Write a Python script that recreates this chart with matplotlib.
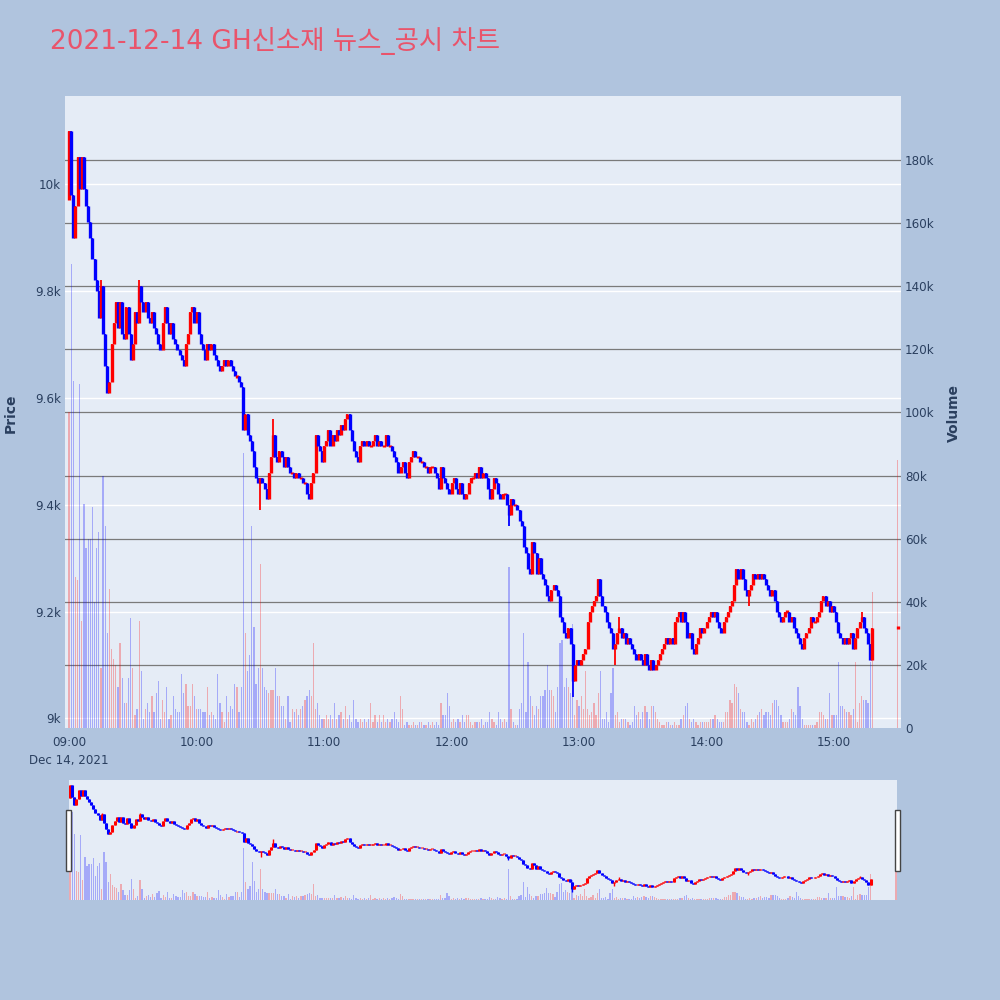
import numpy as np
import matplotlib
matplotlib.use('Agg')
import matplotlib.pyplot as plt
from matplotlib.transforms import blended_transform_factory
from matplotlib.patches import Rectangle

plt.rcParams['font.family'] = ['DejaVu Sans', 'Noto Sans CJK KR']

# ---- data (1-minute candles from 09:00) ----
first_open = 9970
closes = [
    10100, 9980, 9900, 9960, 10050, 9990, 10050, 9990, 9960, 9930,
    9900, 9860, 9820, 9800, 9750, 9810, 9720, 9660, 9610, 9630,
    9700, 9740, 9780, 9730, 9780, 9720, 9710, 9770, 9720, 9670,
    9700, 9760, 9740, 9810, 9780, 9760, 9780, 9750, 9740, 9760,
    9730, 9720, 9700, 9690, 9740, 9770, 9740, 9720, 9740, 9710,
    9700, 9690, 9680, 9670, 9660, 9700, 9720, 9760, 9770, 9740,
    9760, 9720, 9700, 9690, 9670, 9700, 9690, 9700, 9680, 9670,
    9660, 9650, 9660, 9670, 9660, 9670, 9660, 9650, 9640, 9640,
    9630, 9620, 9540, 9570, 9530, 9520, 9500, 9470, 9450, 9440,
    9450, 9440, 9430, 9410, 9460, 9490, 9530, 9490, 9480, 9500,
    9490, 9470, 9490, 9470, 9460, 9460, 9450, 9460, 9450, 9450,
    9440, 9440, 9420, 9410, 9440, 9460, 9530, 9510, 9500, 9480,
    9510, 9520, 9540, 9510, 9530, 9520, 9540, 9530, 9550, 9540,
    9560, 9570, 9540, 9520, 9500, 9490, 9480, 9510, 9520, 9510,
    9520, 9510, 9510, 9520, 9530, 9510, 9520, 9510, 9510, 9530,
    9510, 9510, 9500, 9490, 9480, 9460, 9470, 9480, 9460, 9450,
    9480, 9490, 9500, 9490, 9490, 9480, 9480, 9470, 9470, 9460,
    9470, 9470, 9460, 9450, 9430, 9470, 9450, 9440, 9430, 9420,
    9440, 9450, 9430, 9420, 9440, 9420, 9410, 9420, 9440, 9450,
    9450, 9460, 9450, 9470, 9450, 9460, 9450, 9430, 9410, 9430,
    9450, 9440, 9420, 9410, 9420, 9420, 9400, 9380, 9410, 9400,
    9400, 9390, 9370, 9360, 9320, 9310, 9280, 9270, 9330, 9310,
    9270, 9300, 9270, 9260, 9250, 9230, 9220, 9240, 9250, 9240,
    9230, 9190, 9180, 9160, 9150, 9170, 9140, 9070, 9100, 9110,
    9100, 9110, 9120, 9130, 9180, 9200, 9210, 9220, 9230, 9260,
    9230, 9210, 9200, 9180, 9170, 9160, 9130, 9140, 9160, 9170,
    9150, 9160, 9140, 9150, 9140, 9130, 9120, 9110, 9120, 9110,
    9100, 9120, 9100, 9090, 9110, 9090, 9100, 9110, 9120, 9130,
    9140, 9150, 9140, 9150, 9140, 9180, 9190, 9200, 9180, 9200,
    9180, 9150, 9160, 9130, 9120, 9140, 9150, 9170, 9160, 9170,
    9180, 9190, 9200, 9190, 9200, 9180, 9170, 9160, 9180, 9190,
    9200, 9210, 9220, 9250, 9280, 9260, 9280, 9260, 9240, 9230,
    9240, 9250, 9270, 9260, 9270, 9260, 9270, 9260, 9250, 9240,
    9230, 9240, 9220, 9200, 9190, 9180, 9190, 9200, 9200, 9180,
    9190, 9170, 9160, 9150, 9140, 9130, 9150, 9160, 9170, 9190,
    9180, 9180, 9190, 9200, 9220, 9230, 9210, 9220, 9200, 9210,
    9200, 9180, 9160, 9150, 9140, 9150, 9140, 9150, 9160, 9130,
    9150, 9170, 9180, 9190, 9170, 9160, 9140, 9110, 9170,
]
volumes_k = [
    100, 147, 110, 48, 47, 109, 34, 71, 57, 60,
    60, 70, 40, 57, 62, 19, 80, 64, 30, 44,
    25, 22, 20, 13, 27, 16, 8, 8, 16, 35,
    19, 4, 6, 34, 18, 3, 6, 8, 5, 10,
    5, 11, 15, 3, 9, 5, 13, 3, 4, 10,
    6, 5, 5, 17, 11, 14, 7, 7, 14, 10,
    6, 6, 6, 5, 5, 13, 4, 5, 4, 3,
    17, 8, 5, 2, 10, 5, 7, 6, 14, 13,
    5, 13, 87, 30, 18, 23, 64, 32, 14, 19,
    52, 19, 13, 12, 11, 12, 12, 19, 10, 10,
    7, 7, 3, 10, 2, 6, 5, 6, 4, 6,
    7, 9, 10, 12, 10, 27, 6, 8, 4, 3,
    3, 4, 3, 4, 3, 8, 3, 4, 5, 3,
    7, 3, 4, 2, 9, 3, 2, 3, 2, 3,
    2, 3, 8, 2, 4, 2, 4, 2, 4, 2,
    3, 2, 3, 5, 3, 2, 10, 6, 1, 2,
    1, 1, 2, 1, 1, 2, 2, 1, 1, 2,
    1, 2, 1, 2, 1, 8, 4, 4, 11, 7,
    2, 3, 2, 3, 2, 4, 2, 4, 4, 2,
    1, 2, 2, 2, 3, 1, 2, 2, 5, 3,
    2, 1, 5, 3, 2, 3, 2, 51, 6, 2,
    1, 1, 6, 8, 30, 5, 21, 10, 7, 4,
    7, 6, 10, 10, 12, 20, 12, 12, 10, 5,
    13, 27, 28, 13, 16, 13, 11, 33, 4, 9,
    7, 10, 6, 18, 6, 4, 5, 8, 4, 11,
    18, 3, 3, 5, 2, 11, 19, 4, 5, 2,
    3, 3, 3, 2, 1, 2, 7, 4, 5, 3,
    5, 7, 5, 3, 7, 7, 5, 3, 2, 1,
    1, 2, 2, 1, 1, 2, 1, 1, 3, 4,
    7, 8, 3, 2, 3, 2, 1, 2, 2, 2,
    2, 2, 3, 3, 4, 3, 2, 2, 2, 5,
    5, 9, 8, 14, 13, 11, 6, 5, 5, 2,
    1, 3, 2, 3, 4, 5, 6, 4, 5, 5,
    4, 8, 9, 9, 7, 4, 2, 2, 2, 3,
    6, 5, 4, 13, 7, 3, 1, 1, 1, 1,
    1, 1, 2, 5, 5, 4, 3, 3, 11, 4,
    4, 4, 21, 7, 7, 6, 5, 5, 4, 6,
    21, 2, 8, 10, 9, 9, 8, 21, 43,
]
# wicks that poke out of the bodies
wick_minutes = [0, 15, 33, 90, 96, 207, 237, 257, 259, 320, 373]
wick_prices = [10100, 9820, 9820, 9390, 9560, 9360, 9040, 9100, 9190, 9210, 9200]
# closing auction at 15:30
auction_minute = 390
auction_price = 9170
auction_volume_k = 85

title = '2021-12-14 GH신소재 뉴스_공시 차트'
hour_labels = ['09:00\nDec 14, 2021', '10:00', '11:00', '12:00', '13:00', '14:00', '15:00']

# ---- build OHLC ----
c = np.array(closes + [auction_price], dtype=float)
o = np.array([first_open] + closes[:-1] + [auction_price], dtype=float)
x = np.append(np.arange(len(closes)), auction_minute)
vol = np.array(volumes_k + [auction_volume_k], dtype=float) * 1000
hi = np.maximum(o, c)
lo = np.minimum(o, c)
body_lo = np.where(o == c, c - 2, lo)
body_hi = np.where(o == c, c + 2, hi)
for m, p in zip(wick_minutes, wick_prices):
    hi[m] = max(hi[m], p)
    lo[m] = min(lo[m], p)
up = c >= o
cols = np.where(up, '#ff0000', '#0000ff')

BG = '#b0c4de'
PLOT_BG = '#e5ecf6'
TXT = '#2a3f5f'


def draw(ax_v, ax_p, body_lw, wick_lw, bar_w):
    ax_v.bar(x, vol, width=bar_w, color=cols, alpha=0.28, linewidth=0, zorder=2)
    ax_p.vlines(x, lo, hi, colors=cols, linewidth=wick_lw, zorder=3)
    ax_p.vlines(x, body_lo, body_hi, colors=cols, linewidth=body_lw, zorder=4)


fig = plt.figure(figsize=(10, 10), dpi=100, facecolor=BG)

# ---- main chart ----
ax_vol = fig.add_axes([0.065, 0.272, 0.836, 0.632])
ax_vol.set_facecolor(PLOT_BG)
ax_px = ax_vol.twinx()
ax_px.set_zorder(ax_vol.get_zorder() + 1)
ax_px.patch.set_visible(False)

ax_vol.set_xlim(-1.9, 391.5)
ax_vol.set_ylim(0, 200300)
ax_px.set_ylim(8982, 10165)

price_ticks = [9000, 9200, 9400, 9600, 9800, 10000]
vol_ticks = list(range(0, 200000, 20000))

blend = blended_transform_factory(ax_vol.transAxes, ax_px.transData)
for p in price_ticks:
    ax_vol.plot([0, 1], [p, p], transform=blend, color='white', lw=1.0, zorder=0.5)
for v in vol_ticks[1:]:
    ax_vol.axhline(v, color='#7a7a7a', lw=0.9, zorder=0.6)

draw(ax_vol, ax_px, 2.4, 1.3, 0.6)

ax_px.yaxis.tick_left()
ax_vol.yaxis.tick_right()
ax_px.set_yticks(price_ticks)
ax_px.set_yticklabels(['9k', '9.2k', '9.4k', '9.6k', '9.8k', '10k'])
ax_vol.set_yticks(vol_ticks)
ax_vol.set_yticklabels(['0'] + ['%dk' % (v // 1000) for v in vol_ticks[1:]])
ax_vol.set_xticks(range(0, 361, 60))
ax_vol.set_xticklabels(hour_labels, linespacing=1.5)
for a in (ax_vol, ax_px):
    a.tick_params(length=0, labelsize=8.6, colors=TXT, pad=3)
    for s in a.spines.values():
        s.set_visible(False)
ax_vol.tick_params(axis='x', pad=6)

fig.text(0.011, 0.587, 'Price', rotation=90, ha='center', va='center',
         fontsize=10, fontweight='bold', color=TXT)
fig.text(0.954, 0.587, 'Volume', rotation=90, ha='center', va='center',
         fontsize=10, fontweight='bold', color=TXT)
fig.text(0.05, 0.959, title, ha='left', va='center', fontsize=19, color='#e9546b')

# ---- range slider ----
ax_s = fig.add_axes([0.069, 0.10, 0.828, 0.12])
ax_s.set_facecolor(PLOT_BG)
ax_sp = ax_s.twinx()
ax_sp.set_zorder(ax_s.get_zorder() + 1)
ax_sp.patch.set_visible(False)
ax_s.set_xlim(-0.5, 390.5)
ax_s.set_ylim(0, 200000)
ax_sp.set_ylim(8960, 10150)
draw(ax_s, ax_sp, 2.2, 1.0, 0.6)
for a in (ax_s, ax_sp):
    a.set_xticks([])
    a.set_yticks([])
    for s in a.spines.values():
        s.set_visible(False)

for hx in (0.066, 0.895):
    fig.add_artist(Rectangle((hx, 0.129), 0.005, 0.061, transform=fig.transFigure,
                             facecolor='white', edgecolor='#444444', lw=1))

fig.savefig('out.png', dpi=100, facecolor=BG)
